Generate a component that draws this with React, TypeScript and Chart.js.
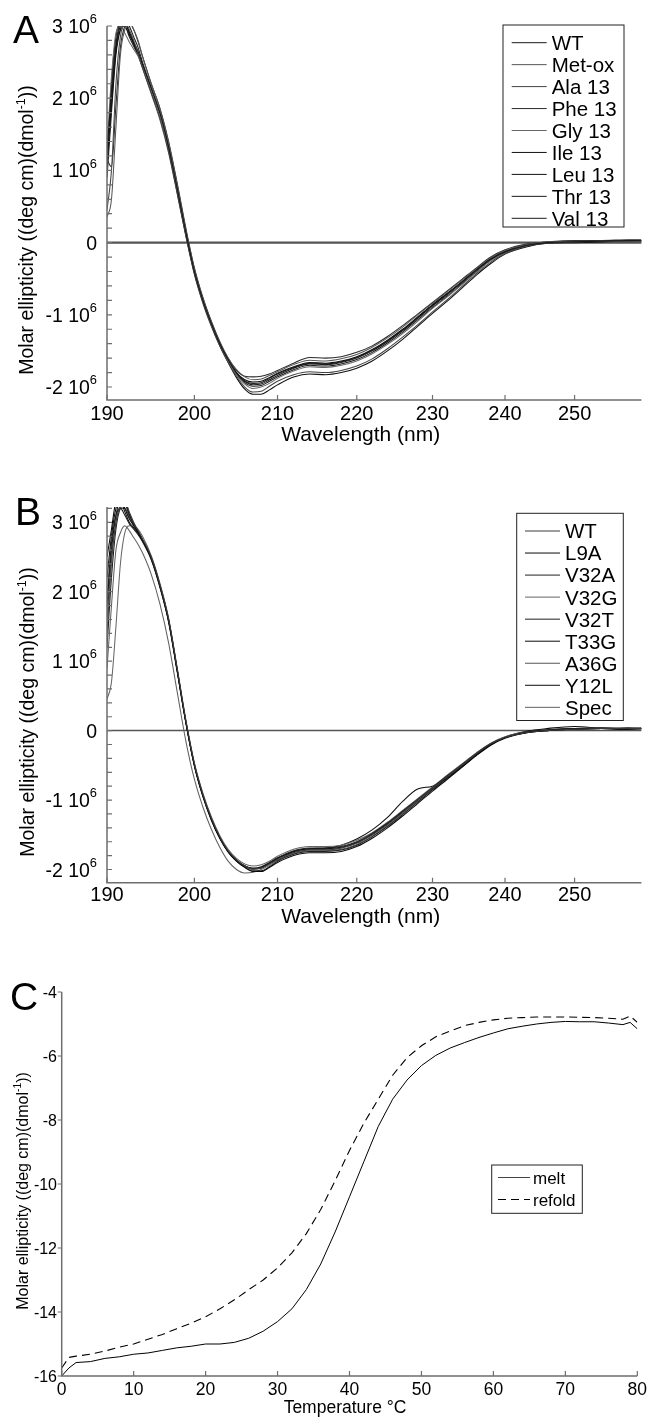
import React, { useEffect, useRef } from 'react';
import { Chart, registerables } from 'chart.js';

Chart.register(...registerables);

const FONT = '"Liberation Sans", Arial, Helvetica, sans-serif';

// ---------------- Panels A & B: CD spectra ----------------
const wavelengths = [190, 190.5, 191, 191.5, 192, 192.5, 193, 193.5, 194, 195, 196, 197, 198, 199, 200, 201, 202, 203, 204, 205, 206, 207, 208, 209, 210, 212, 214, 216, 218, 220, 222, 224, 226, 228, 230, 232, 234, 236, 238, 240, 243, 246, 250, 254, 258, 260];
const wavelengthTicks = [190, 200, 210, 220, 230, 240, 250];
const ellipTicks = [-2, -1, 0, 1, 2, 3];
const ellipTickMain = ['-2 10', '-1 10', '0', '1 10', '2 10', '3 10'];
const ellipTickSup = ['6', '6', '', '6', '6', '6'];

// Panel A (values in 10^6 deg cm2 dmol-1)
const seriesALabels = ['WT', 'Met-ox', 'Ala 13', 'Phe 13', 'Gly 13', 'Ile 13', 'Leu 13', 'Thr 13', 'Val 13'];
const seriesAColors = ['#1a1a1a', '#555555', '#444444', '#2a2a2a', '#666666', '#111111', '#111111', '#1a1a1a', '#1a1a1a'];
const aWT = [1.25, 2.1, 2.75, 3.05, 3.1, 3.0, 2.85, 2.7, 2.5, 2.15, 1.8, 1.32, 0.74, 0.14, -0.4, -0.8, -1.12, -1.4, -1.62, -1.8, -1.92, -1.97, -1.96, -1.9, -1.84, -1.74, -1.68, -1.69, -1.66, -1.6, -1.5, -1.37, -1.22, -1.05, -0.88, -0.72, -0.55, -0.38, -0.23, -0.13, -0.04, 0.0, 0.01, 0.02, 0.03, 0.03];
const aMetOx = [0.35, 0.6, 1.6, 2.6, 2.95, 3.05, 2.95, 2.8, 2.58, 2.2, 1.85, 1.38, 0.8, 0.18, -0.36, -0.77, -1.1, -1.38, -1.6, -1.76, -1.86, -1.9, -1.89, -1.84, -1.79, -1.69, -1.63, -1.64, -1.61, -1.55, -1.45, -1.32, -1.17, -1.0, -0.84, -0.68, -0.52, -0.36, -0.21, -0.11, -0.03, 0.01, 0.02, 0.02, 0.03, 0.02];
const aAla13 = [0.45, 1.0, 2.2, 2.85, 3.05, 2.95, 2.8, 2.62, 2.42, 2.06, 1.7, 1.24, 0.67, 0.09, -0.44, -0.84, -1.16, -1.43, -1.66, -1.85, -2.0, -2.07, -2.06, -1.99, -1.92, -1.83, -1.79, -1.8, -1.77, -1.71, -1.61, -1.47, -1.31, -1.14, -0.96, -0.79, -0.61, -0.43, -0.27, -0.15, -0.05, -0.01, 0.01, 0.02, 0.02, 0.02];
const aPhe13 = [1.15, 1.05, 1.9, 2.7, 3.0, 3.05, 2.95, 2.78, 2.58, 2.2, 1.86, 1.4, 0.82, 0.2, -0.35, -0.76, -1.09, -1.37, -1.6, -1.77, -1.85, -1.86, -1.85, -1.82, -1.77, -1.67, -1.59, -1.6, -1.58, -1.52, -1.43, -1.3, -1.15, -0.99, -0.83, -0.67, -0.51, -0.35, -0.2, -0.1, -0.02, 0.01, 0.03, 0.03, 0.04, 0.04];
const aGly13 = [1.3, 2.3, 2.9, 3.0, 2.9, 2.78, 2.68, 2.58, 2.43, 2.1, 1.75, 1.28, 0.71, 0.11, -0.42, -0.82, -1.14, -1.42, -1.64, -1.83, -1.96, -2.02, -2.0, -1.95, -1.88, -1.78, -1.72, -1.73, -1.7, -1.64, -1.54, -1.41, -1.26, -1.09, -0.91, -0.75, -0.58, -0.41, -0.25, -0.14, -0.04, 0.0, 0.01, 0.02, 0.02, 0.02];
const aIle13 = [0.9, 1.8, 2.6, 2.95, 3.05, 2.9, 2.75, 2.6, 2.42, 2.08, 1.74, 1.27, 0.69, 0.1, -0.43, -0.82, -1.15, -1.43, -1.66, -1.87, -2.03, -2.1, -2.1, -2.04, -1.97, -1.86, -1.82, -1.83, -1.8, -1.74, -1.64, -1.5, -1.34, -1.16, -0.98, -0.81, -0.63, -0.45, -0.29, -0.16, -0.06, -0.01, 0.0, 0.01, 0.02, 0.02];
const aLeu13 = [1.2, 2.0, 2.7, 3.0, 3.05, 2.92, 2.78, 2.65, 2.47, 2.12, 1.78, 1.32, 0.75, 0.15, -0.39, -0.79, -1.12, -1.4, -1.62, -1.8, -1.9, -1.93, -1.92, -1.87, -1.81, -1.72, -1.66, -1.67, -1.64, -1.58, -1.48, -1.35, -1.2, -1.03, -0.86, -0.7, -0.54, -0.37, -0.22, -0.12, -0.03, 0.0, 0.02, 0.03, 0.03, 0.03];
const aThr13 = [1.1, 1.9, 2.65, 2.95, 3.0, 2.85, 2.72, 2.6, 2.44, 2.1, 1.76, 1.3, 0.72, 0.12, -0.41, -0.81, -1.13, -1.41, -1.63, -1.82, -1.94, -1.99, -1.98, -1.92, -1.86, -1.76, -1.7, -1.71, -1.68, -1.62, -1.52, -1.39, -1.24, -1.07, -0.9, -0.74, -0.57, -0.4, -0.24, -0.13, -0.04, 0.0, 0.01, 0.02, 0.02, 0.03];
const aVal13 = [1.0, 2.2, 2.85, 3.05, 3.0, 2.88, 2.76, 2.62, 2.45, 2.12, 1.77, 1.31, 0.73, 0.13, -0.4, -0.8, -1.13, -1.41, -1.63, -1.81, -1.92, -1.95, -1.94, -1.88, -1.82, -1.73, -1.67, -1.68, -1.65, -1.59, -1.49, -1.36, -1.21, -1.04, -0.87, -0.71, -0.55, -0.38, -0.23, -0.12, -0.03, 0.0, 0.02, 0.03, 0.02, 0.02];
const seriesAValues = [aWT, aMetOx, aAla13, aPhe13, aGly13, aIle13, aLeu13, aThr13, aVal13];

// Panel B
const seriesBLabels = ['WT', 'L9A', 'V32A', 'V32G', 'V32T', 'T33G', 'A36G', 'Y12L', 'Spec'];
const seriesBColors = ['#3a3a3a', '#0a0a0a', '#1f1f1f', '#666666', '#1f1f1f', '#0a0a0a', '#555555', '#0a0a0a', '#606060'];
const bWT = [1.6, 2.5, 3.0, 3.25, 3.3, 3.15, 3.0, 2.88, 2.76, 2.5, 2.1, 1.6, 0.88, 0.14, -0.48, -0.92, -1.26, -1.53, -1.73, -1.86, -1.95, -1.99, -1.98, -1.92, -1.86, -1.76, -1.72, -1.72, -1.69, -1.62, -1.5, -1.35, -1.18, -1.0, -0.83, -0.66, -0.5, -0.33, -0.19, -0.1, -0.03, 0.0, 0.02, 0.03, 0.03, 0.03];
const bL9A = [2.5, 2.9, 3.3, 3.35, 3.2, 3.05, 2.95, 2.85, 2.74, 2.48, 2.08, 1.58, 0.86, 0.12, -0.5, -0.94, -1.28, -1.55, -1.75, -1.88, -1.97, -2.03, -2.03, -1.97, -1.9, -1.8, -1.76, -1.76, -1.74, -1.67, -1.55, -1.4, -1.23, -1.05, -0.87, -0.7, -0.53, -0.36, -0.21, -0.11, -0.03, 0.0, 0.02, 0.03, 0.02, 0.03];
const bV32A = [1.9, 2.7, 3.1, 3.2, 3.1, 2.98, 2.9, 2.82, 2.72, 2.46, 2.06, 1.56, 0.84, 0.11, -0.51, -0.95, -1.29, -1.55, -1.74, -1.87, -1.95, -1.98, -1.96, -1.9, -1.83, -1.73, -1.69, -1.69, -1.67, -1.6, -1.48, -1.33, -1.16, -0.99, -0.82, -0.65, -0.49, -0.33, -0.19, -0.1, -0.02, 0.01, 0.03, 0.04, 0.03, 0.04];
const bV32G = [0.45, 0.7, 1.5, 2.4, 2.85, 2.95, 2.95, 2.9, 2.8, 2.52, 2.12, 1.62, 0.9, 0.16, -0.46, -0.9, -1.24, -1.51, -1.71, -1.84, -1.92, -1.95, -1.93, -1.88, -1.81, -1.71, -1.67, -1.67, -1.65, -1.58, -1.47, -1.32, -1.15, -0.98, -0.81, -0.64, -0.48, -0.32, -0.18, -0.09, -0.02, 0.01, 0.02, 0.03, 0.03, 0.02];
const bV32T = [1.2, 2.2, 2.9, 3.2, 3.25, 3.1, 2.97, 2.86, 2.75, 2.49, 2.09, 1.59, 0.87, 0.13, -0.49, -0.93, -1.27, -1.54, -1.74, -1.88, -1.97, -2.02, -2.02, -1.96, -1.88, -1.78, -1.74, -1.74, -1.72, -1.65, -1.53, -1.38, -1.21, -1.03, -0.85, -0.68, -0.52, -0.35, -0.2, -0.1, -0.03, 0.0, 0.02, 0.03, 0.02, 0.03];
const bT33G = [2.2, 2.8, 3.2, 3.3, 3.15, 3.0, 2.92, 2.84, 2.73, 2.47, 2.07, 1.57, 0.85, 0.12, -0.5, -0.94, -1.28, -1.54, -1.74, -1.87, -1.95, -1.99, -1.97, -1.91, -1.84, -1.74, -1.7, -1.7, -1.68, -1.61, -1.49, -1.34, -1.17, -1.0, -0.83, -0.66, -0.5, -0.33, -0.19, -0.1, -0.02, 0.01, 0.03, 0.03, 0.04, 0.03];
const bA36G = [1.4, 2.4, 3.0, 3.2, 3.2, 3.08, 2.96, 2.86, 2.75, 2.5, 2.1, 1.6, 0.88, 0.14, -0.48, -0.92, -1.26, -1.53, -1.73, -1.86, -1.95, -2.0, -1.98, -1.92, -1.85, -1.75, -1.71, -1.71, -1.69, -1.62, -1.5, -1.35, -1.18, -1.0, -0.83, -0.66, -0.5, -0.33, -0.19, -0.1, -0.02, 0.01, 0.03, 0.04, 0.03, 0.03];
const bY12L = [1.8, 2.6, 3.1, 3.3, 3.3, 3.12, 2.98, 2.87, 2.75, 2.49, 2.09, 1.59, 0.87, 0.13, -0.49, -0.93, -1.27, -1.54, -1.74, -1.87, -1.95, -1.99, -1.97, -1.91, -1.84, -1.74, -1.7, -1.69, -1.65, -1.56, -1.43, -1.25, -1.02, -0.84, -0.8, -0.68, -0.52, -0.35, -0.2, -0.09, -0.01, 0.03, 0.06, 0.03, 0.02, 0.03];
const bSpec = [0.9, 1.8, 2.6, 2.85, 2.95, 2.88, 2.78, 2.68, 2.56, 2.25, 1.82, 1.26, 0.55, -0.15, -0.7, -1.1, -1.42, -1.68, -1.88, -2.0, -2.05, -2.04, -2.0, -1.94, -1.87, -1.77, -1.73, -1.73, -1.71, -1.64, -1.52, -1.37, -1.2, -1.02, -0.85, -0.68, -0.51, -0.34, -0.2, -0.1, -0.03, 0.0, 0.02, 0.03, 0.03, 0.02];
const seriesBValues = [bWT, bL9A, bV32A, bV32G, bV32T, bT33G, bA36G, bY12L, bSpec];

// ---------------- Panel C: thermal melt ----------------
const temperatures = [0, 1, 2, 4, 6, 8, 10, 12, 14, 16, 18, 20, 22, 24, 26, 28, 30, 32, 34, 36, 38, 40, 42, 44, 46, 48, 50, 52, 54, 56, 58, 60, 62, 64, 66, 68, 70, 72, 74, 76, 78, 79, 80];
const meltValues = [-16.0, -15.75, -15.58, -15.55, -15.45, -15.4, -15.32, -15.28, -15.2, -15.12, -15.07, -15.0, -15.0, -14.95, -14.82, -14.6, -14.3, -13.9, -13.3, -12.5, -11.5, -10.4, -9.3, -8.2, -7.35, -6.75, -6.3, -5.98, -5.75, -5.58, -5.42, -5.28, -5.15, -5.07, -5.0, -4.95, -4.92, -4.93, -4.93, -4.97, -5.02, -4.95, -5.15];
const refoldValues = [-15.75, -15.42, -15.38, -15.32, -15.22, -15.1, -15.0, -14.85, -14.7, -14.52, -14.35, -14.15, -13.9, -13.62, -13.3, -13.0, -12.62, -12.15, -11.55, -10.8, -9.9, -8.95, -8.1, -7.35, -6.6, -6.05, -5.68, -5.4, -5.22, -5.05, -4.95, -4.87, -4.82, -4.8, -4.78, -4.78, -4.78, -4.79, -4.8, -4.82, -4.85, -4.75, -4.95];
const tempTicks = [0, 10, 20, 30, 40, 50, 60, 70, 80];
const tempTickLabels = ['0', '10', '20', '30', '40', '50', '60', '70', '80'];
const cdTicks = [-16, -14, -12, -10, -8, -6, -4];
const cdTickLabels = ['-16', '-14', '-12', '-10', '-8', '-6', '-4'];
const meltLabels = ['melt', 'refold'];

// ---------------- decoration plugin ----------------
type LegendItem = { label: string; color: string; dash: number[] };
type Deco = {
  letter: string; letterPos: [number, number];
  xTicks: number[]; xTickLabels: string[]; xAxisEnd: number; xTickLen: number; xLabelY: number; xLabelFont: number;
  yTicks: number[]; yTickMain: string[]; yTickSup: string[]; yMinor: number[]; yTickLen: number; yOutward: boolean;
  yLabelRight: number; yLabelFont: number;
  xTitle: string; xTitlePos: [number, number]; xTitleFont: number;
  yTitlePos: [number, number]; yTitleFont: number;
  zeroLine: { width: number; color: string } | null;
  legend: { box: [number, number, number, number]; firstY: number; rowH: number; lineX: [number, number]; textX: number; font: number; items: LegendItem[] };
};

type Part = { t: string; sup?: boolean };

function drawParts(ctx: CanvasRenderingContext2D, parts: Part[], size: number, supScale: number, supRaise: number, x: number, baseline: number, align: 'left' | 'right' | 'center') {
  const widths = parts.map((p) => {
    ctx.font = `${p.sup ? size * supScale : size}px ${FONT}`;
    return ctx.measureText(p.t).width;
  });
  const total = widths.reduce((a, b) => a + b, 0);
  let cx = align === 'left' ? x : align === 'right' ? x - total : x - total / 2;
  ctx.textAlign = 'left';
  ctx.textBaseline = 'alphabetic';
  parts.forEach((p, i) => {
    ctx.font = `${p.sup ? size * supScale : size}px ${FONT}`;
    ctx.fillText(p.t, cx, p.sup ? baseline - supRaise : baseline);
    cx += widths[i];
  });
}

const yTitleParts: Part[] = [{ t: 'Molar ellipticity ((deg cm)(dmol' }, { t: '-1', sup: true }, { t: '))' }];

function makeDeco(d: Deco) {
  return {
    id: 'deco',
    beforeDatasetsDraw(chart: any) {
      if (!d.zeroLine) return;
      const { ctx, chartArea } = chart;
      const y = chart.scales.y.getPixelForValue(0);
      ctx.save();
      ctx.strokeStyle = d.zeroLine.color;
      ctx.lineWidth = d.zeroLine.width;
      ctx.beginPath();
      ctx.moveTo(chartArea.left, y);
      ctx.lineTo(chartArea.right, y);
      ctx.stroke();
      ctx.restore();
    },
    afterDraw(chart: any) {
      const { ctx, chartArea } = chart;
      const xs = chart.scales.x;
      const ys = chart.scales.y;
      ctx.save();
      // axes
      ctx.strokeStyle = '#6e6e6e';
      ctx.lineWidth = 1.5;
      const xEnd = xs.getPixelForValue(d.xAxisEnd);
      ctx.beginPath();
      ctx.moveTo(chartArea.left, chartArea.top);
      ctx.lineTo(chartArea.left, chartArea.bottom);
      ctx.lineTo(xEnd, chartArea.bottom);
      ctx.stroke();
      ctx.lineWidth = 1.2;
      ctx.beginPath();
      d.xTicks.forEach((t) => {
        const px = xs.getPixelForValue(t);
        ctx.moveTo(px, chartArea.bottom);
        ctx.lineTo(px, chartArea.bottom - d.xTickLen);
      });
      [...d.yTicks, ...d.yMinor].forEach((t) => {
        const py = ys.getPixelForValue(t);
        if (d.yOutward) {
          ctx.moveTo(chartArea.left - d.yTickLen, py);
          ctx.lineTo(chartArea.left, py);
        } else {
          ctx.moveTo(chartArea.left, py);
          ctx.lineTo(chartArea.left + d.yTickLen, py);
        }
      });
      ctx.stroke();

      ctx.fillStyle = '#000';
      // x tick labels
      ctx.font = `${d.xLabelFont}px ${FONT}`;
      ctx.textAlign = 'center';
      ctx.textBaseline = 'alphabetic';
      d.xTicks.forEach((t, i) => {
        ctx.fillText(d.xTickLabels[i], xs.getPixelForValue(t), d.xLabelY + d.xLabelFont * 0.36);
      });
      // y tick labels
      d.yTicks.forEach((t, i) => {
        const py = ys.getPixelForValue(t);
        const parts: Part[] = [{ t: d.yTickMain[i] }];
        if (d.yTickSup[i]) parts.push({ t: d.yTickSup[i], sup: true });
        drawParts(ctx, parts, d.yLabelFont, 0.66, d.yLabelFont * 0.5, d.yLabelRight, py + d.yLabelFont * 0.36, 'right');
      });
      // x title
      ctx.font = `${d.xTitleFont}px ${FONT}`;
      ctx.textAlign = 'center';
      ctx.fillText(d.xTitle, d.xTitlePos[0], d.xTitlePos[1]);
      // y title (rotated)
      ctx.save();
      ctx.translate(d.yTitlePos[0], d.yTitlePos[1]);
      ctx.rotate(-Math.PI / 2);
      drawParts(ctx, yTitleParts, d.yTitleFont, 0.64, d.yTitleFont * 0.42, 0, d.yTitleFont * 0.26, 'center');
      ctx.restore();
      // panel letter
      ctx.font = `39px ${FONT}`;
      ctx.textAlign = 'left';
      ctx.textBaseline = 'alphabetic';
      ctx.fillText(d.letter, d.letterPos[0], d.letterPos[1]);
      // legend
      const L = d.legend;
      ctx.fillStyle = '#fff';
      ctx.fillRect(L.box[0], L.box[1], L.box[2], L.box[3]);
      ctx.strokeStyle = '#222';
      ctx.lineWidth = 1;
      ctx.strokeRect(L.box[0], L.box[1], L.box[2], L.box[3]);
      L.items.forEach((it, i) => {
        const y = L.firstY + i * L.rowH;
        ctx.strokeStyle = it.color;
        ctx.lineWidth = 1;
        ctx.setLineDash(it.dash);
        ctx.beginPath();
        ctx.moveTo(L.lineX[0], y);
        ctx.lineTo(L.lineX[1], y);
        ctx.stroke();
        ctx.setLineDash([]);
        ctx.fillStyle = '#000';
        ctx.font = `${L.font}px ${FONT}`;
        ctx.textAlign = 'left';
        ctx.textBaseline = 'alphabetic';
        ctx.fillText(it.label, L.textX, y + L.font * 0.36);
      });
      ctx.restore();
    },
  };
}

function minorTicks(lo: number, hi: number, step: number): number[] {
  const out: number[] = [];
  for (let k = Math.round(lo / step); k * step <= hi + 1e-9; k++) {
    const v = Math.round(k * step * 10) / 10;
    if (Math.abs(v - Math.round(v)) > 1e-6) out.push(v);
  }
  return out;
}

function spectrumConfig(values: number[][], labels: string[], colors: string[], yMin: number, yMax: number, padding: any, deco: Deco) {
  return {
    type: 'line',
    data: {
      datasets: values.map((vals, k) => ({
        label: labels[k],
        data: vals.map((v, i) => ({ x: wavelengths[i], y: v })),
        borderColor: colors[k],
        borderWidth: 1.05,
        pointRadius: 0,
        fill: false,
        cubicInterpolationMode: 'monotone',
      })),
    },
    options: {
      responsive: false,
      animation: false,
      events: [],
      layout: { padding },
      plugins: { legend: { display: false }, tooltip: { enabled: false } },
      scales: {
        x: { type: 'logarithmic', min: 190, max: 260, display: false },
        y: { type: 'linear', min: yMin, max: yMax, display: false },
      },
    },
    plugins: [makeDeco(deco)],
  };
}

const configA = () =>
  spectrumConfig(seriesAValues, seriesALabels, seriesAColors, -2.18, 3.0, { left: 107, top: 26, right: 7.6, bottom: 70 }, {
    letter: 'A', letterPos: [13, 43],
    xTicks: wavelengthTicks, xTickLabels: wavelengthTicks.map(String), xAxisEnd: 260, xTickLen: 5, xLabelY: 413, xLabelFont: 20,
    yTicks: ellipTicks, yTickMain: ellipTickMain, yTickSup: ellipTickSup, yMinor: minorTicks(-2, 3, 0.2), yTickLen: 5, yOutward: false,
    yLabelRight: 97, yLabelFont: 19.5,
    xTitle: 'Wavelength (nm)', xTitlePos: [360.7, 441], xTitleFont: 21,
    yTitlePos: [28, 230], yTitleFont: 19.5,
    zeroLine: { width: 2.2, color: '#555' },
    legend: {
      box: [503, 25, 121, 202], firstY: 42.7, rowH: 21.95, lineX: [511.7, 546.7], textX: 551.7, font: 20.5,
      items: seriesALabels.map((l, i) => ({ label: l, color: seriesAColors[i], dash: [] })),
    },
  });

const configB = () =>
  spectrumConfig(seriesBValues, seriesBLabels, seriesBColors, -2.19, 3.22, { left: 107, top: 47, right: 7.6, bottom: 57.3 }, {
    letter: 'B', letterPos: [15, 65],
    xTicks: wavelengthTicks, xTickLabels: wavelengthTicks.map(String), xAxisEnd: 260, xTickLen: 5, xLabelY: 434, xLabelFont: 20,
    yTicks: ellipTicks, yTickMain: ellipTickMain, yTickSup: ellipTickSup, yMinor: minorTicks(-2, 3.2, 0.2), yTickLen: 5, yOutward: false,
    yLabelRight: 97, yLabelFont: 19.5,
    xTitle: 'Wavelength (nm)', xTitlePos: [360.7, 462.5], xTitleFont: 21,
    yTitlePos: [29, 252], yTitleFont: 19.5,
    zeroLine: { width: 1.5, color: '#555' },
    legend: {
      box: [516.7, 53.3, 106.6, 207.2], firstY: 71, rowH: 22.04, lineX: [525, 560], textX: 565, font: 20.5,
      items: seriesBLabels.map((l, i) => ({ label: l, color: seriesBColors[i], dash: [] })),
    },
  });

const configC = () => ({
  type: 'line',
  data: {
    datasets: [
      {
        label: meltLabels[0],
        data: meltValues.map((v, i) => ({ x: temperatures[i], y: v })),
        borderColor: '#000',
        borderWidth: 1,
        pointRadius: 0,
        fill: false,
      },
      {
        label: meltLabels[1],
        data: refoldValues.map((v, i) => ({ x: temperatures[i], y: v })),
        borderColor: '#000',
        borderWidth: 1.1,
        borderDash: [8, 5],
        pointRadius: 0,
        fill: false,
      },
    ],
  },
  options: {
    responsive: false,
    animation: false,
    events: [],
    layout: { padding: { left: 61.7, top: 67, right: 11.7, bottom: 42 } },
    plugins: { legend: { display: false }, tooltip: { enabled: false } },
    scales: {
      x: { type: 'linear', min: 0, max: 80, display: false },
      y: { type: 'linear', min: -16, max: -4, display: false },
    },
  },
  plugins: [
    makeDeco({
      letter: 'C', letterPos: [10, 85],
      xTicks: tempTicks, xTickLabels: tempTickLabels, xAxisEnd: 80, xTickLen: 5, xLabelY: 464, xLabelFont: 17.5,
      yTicks: cdTicks, yTickMain: cdTickLabels, yTickSup: cdTicks.map(() => ''), yMinor: [], yTickLen: 4, yOutward: true,
      yLabelRight: 57, yLabelFont: 16,
      xTitle: 'Temperature \u00B0C', xTitlePos: [345, 488], xTitleFont: 17.5,
      yTitlePos: [24, 266], yTitleFont: 16,
      zeroLine: null,
      legend: {
        box: [491.7, 240, 90.6, 48.3], firstY: 252.5, rowH: 22, lineX: [498, 530], textX: 533, font: 17,
        items: [
          { label: meltLabels[0], color: '#444', dash: [] },
          { label: meltLabels[1], color: '#000', dash: [8, 5] },
        ],
      },
    }),
  ],
});

function Panel({ top, height, make }: { top: number; height: number; make: () => any }) {
  const ref = useRef<HTMLCanvasElement>(null);
  useEffect(() => {
    const chart = new Chart(ref.current as HTMLCanvasElement, make());
    return () => chart.destroy();
  }, []);
  return (
    <canvas
      ref={ref}
      width={649}
      height={height}
      style={{ position: 'absolute', left: 0, top, width: 649, height, display: 'block' }}
    />
  );
}

export default function App() {
  return (
    <div style={{ position: 'absolute', left: 0, top: 0, width: 649, height: 1418, background: '#fff', overflow: 'hidden' }}>
      <Panel top={0} height={470} make={configA} />
      <Panel top={460} height={480} make={configB} />
      <Panel top={925} height={493} make={configC} />
    </div>
  );
}
